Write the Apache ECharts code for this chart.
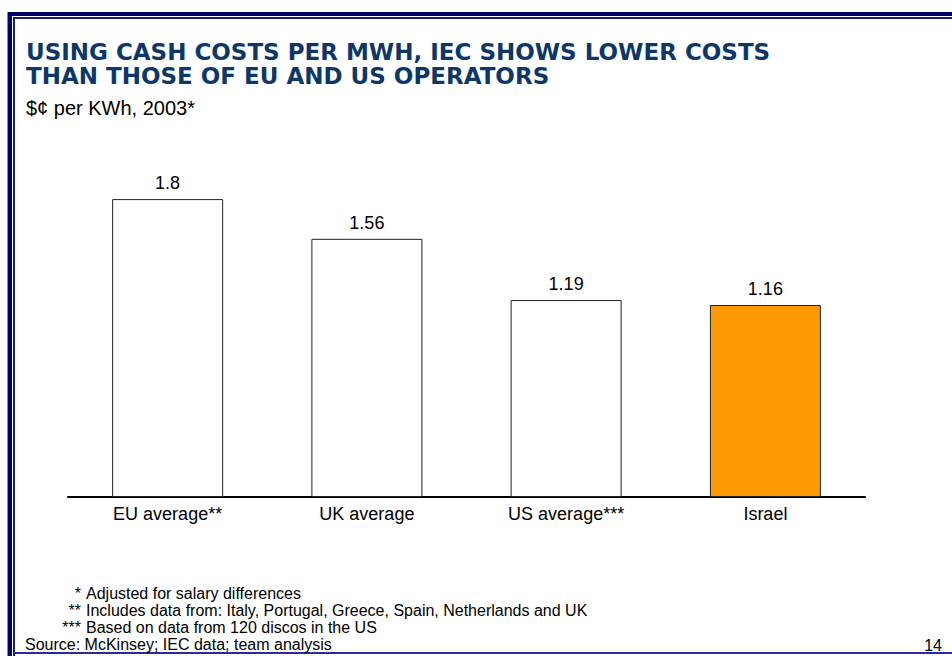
<!DOCTYPE html>
<html>
<head>
<meta charset="utf-8">
<script src="https://cdn.jsdelivr.net/npm/echarts@6/dist/echarts.min.js"></script>
<style>
html,body{margin:0;padding:0;background:#fff;}
#chart{width:952px;height:656px;}
</style>
</head>
<body>
<div id="chart"></div>
<script>
const categories = ['EU average**', 'UK average', 'US average***', 'Israel'];
const values = [1.8, 1.56, 1.19, 1.16];
const barColors = ['#ffffff', '#ffffff', '#ffffff', '#ff9900'];
const titleLines = ['USING CASH COSTS PER MWH, IEC SHOWS LOWER COSTS', 'THAN THOSE OF EU AND US OPERATORS'];
const subtitle = '$¢ per KWh, 2003*';
const footMarks = ['*', '**', '***'];
const footTexts = ['Adjusted for salary differences', 'Includes data from: Italy, Portugal, Greece, Spain, Netherlands and UK', 'Based on data from 120 discos in the US'];
const sourceText = 'Source: McKinsey; IEC data; team analysis';
const pageNumber = '14';

const chart = echarts.init(document.getElementById('chart'), null, {renderer: 'svg'});
const font = '"Liberation Sans", Arial, sans-serif';

const graphics = [
  // frame
  {type: 'rect', shape: {x: 8, y: 12, width: 960, height: 4}, style: {fill: '#000066'}, silent: true},
  {type: 'rect', shape: {x: 13, y: 17, width: 960, height: 2}, style: {fill: '#1a1a80'}, silent: true},
  {type: 'rect', shape: {x: 8, y: 12, width: 4, height: 644}, style: {fill: '#000066'}, silent: true},
  {type: 'rect', shape: {x: 7, y: 12, width: 1, height: 644}, style: {fill: '#8a8aa8'}, silent: true},
  {type: 'rect', shape: {x: 13, y: 17, width: 2, height: 639}, style: {fill: '#1a1a80'}, silent: true},
  {type: 'rect', shape: {x: 13, y: 652, width: 960, height: 2}, style: {fill: '#2a2a99'}, silent: true},
  // footnotes
  {type: 'text', x: 25, y: 636, style: {text: sourceText, font: '16px ' + font, fill: '#000'}},
  {type: 'text', right: 10, top: 637, style: {text: pageNumber, font: '16px ' + font, fill: '#000'}}
];
footMarks.forEach((m, i) => {
  const y = 585 + i * 17;
  graphics.push({type: 'text', x: 81, y: y, style: {text: m, font: '16px ' + font, fill: '#000', align: 'right'}});
  graphics.push({type: 'text', x: 86, y: y, style: {text: footTexts[i], font: '16px ' + font, fill: '#000', align: 'left'}});
});

chart.setOption({
  backgroundColor: '#ffffff',
  animation: false,
  title: [
    {text: titleLines.join('\n'), left: 21, top: 35,
     textStyle: {fontFamily: '"DejaVu Sans", sans-serif', fontSize: 23, fontWeight: 'bold', color: '#0c3768', lineHeight: 24}},
    {text: subtitle, left: 21, top: 93,
     textStyle: {fontFamily: font, fontSize: 20, fontWeight: 'normal', color: '#000', lineHeight: 20}}
  ],
  grid: {left: 68, right: 87, top: 166, bottom: 159},
  xAxis: {
    type: 'category',
    data: categories,
    axisLine: {show: true, lineStyle: {color: '#000', width: 2}},
    axisTick: {show: false},
    axisLabel: {fontFamily: font, fontSize: 18, color: '#000', margin: 8}
  },
  yAxis: {type: 'value', min: 0, max: 2, show: false, splitLine: {show: false}},
  series: [{
    type: 'bar',
    barWidth: 111,
    data: values.map((v, i) => ({value: v, itemStyle: {color: barColors[i]}})),
    itemStyle: {borderColor: '#222', borderWidth: 1},
    label: {show: true, position: 'top', distance: 7, fontFamily: font, fontSize: 18, color: '#000'}
  }],
  graphic: graphics
});
</script>
</body>
</html>
